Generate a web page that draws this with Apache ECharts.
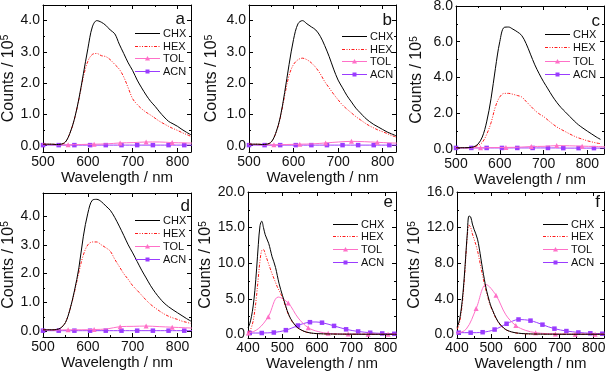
<!DOCTYPE html>
<html><head><meta charset="utf-8">
<script src="https://cdn.jsdelivr.net/npm/echarts@6/dist/echarts.min.js"></script>
<style>html,body{margin:0;padding:0;background:#fff}#c{width:606px;height:371px}</style>
</head><body><div id="c"></div>
<script>
const FONT = '"Liberation Sans", Arial, sans-serif';
function seq(a, step, b){ const r=[]; for(let k=0; a+k*step<=b+1e-9; k++) r.push(+(a+k*step).toFixed(3)); return r; }

// ---- sampling grids (wavelength, nm) ----
const wlAD    = seq(500,10,830);                       // CHX / HEX, panels a-d
const wlTolAD = seq(498,29,846);                       // TOL, panels a-d
const wlAcnAD = seq(500,17.5,850);                     // ACN, panels a-d
const wlEF    = seq(400,5,500).concat(seq(520,20,840)); // CHX / HEX, panels e-f
const wlTolE  = seq(372,29,836);
const wlTolF  = seq(340,29,833);
const wlAcnEF = seq(370,17.5,842.5);

// ---- series values (counts / 1e5) ----
const chxA = [0.05,0.05,0.05,0.04,0.05,0.12,0.4,0.85,1.5,2.3,3.1,3.8,4.0,3.95,3.85,3.7,3.58,3.25,2.95,2.65,2.4,2.1,1.85,1.62,1.42,1.26,1.08,0.92,0.78,0.7,0.62,0.52,0.43,0.35];
const hexA = [0.05,0.05,0.05,0.04,0.05,0.12,0.4,0.85,1.48,2.2,2.7,2.92,2.95,2.88,2.85,2.75,2.6,2.45,2.2,1.85,1.5,1.32,1.18,1.07,0.98,0.88,0.78,0.7,0.62,0.55,0.49,0.42,0.36,0.3];
const tolA = [0.06,0.03,0.03,0.04,0.05,0.06,0.09,0.1,0.12,0.12,0.1,0.09,0.08];
const acnA = [0.02,0.02,0.02,0.02,0.02,0.02,0.02,0.02,0.02,0.02,0.02,0.02,0.02,0.02,0.02,0.02,0.02,0.02,0.02,0.02,0.02];

const chxB = [0.05,0.05,0.05,0.04,0.05,0.12,0.4,0.9,1.7,2.6,3.4,3.9,4.0,3.9,3.8,3.7,3.5,3.2,2.85,2.45,2.1,1.85,1.6,1.4,1.2,1.05,0.9,0.78,0.68,0.6,0.52,0.44,0.38,0.32];
const hexB = [0.05,0.05,0.05,0.04,0.05,0.12,0.4,0.88,1.6,2.25,2.6,2.75,2.8,2.75,2.65,2.5,2.3,2.05,1.85,1.65,1.47,1.3,1.17,1.05,0.93,0.83,0.73,0.64,0.57,0.5,0.45,0.39,0.33,0.28];
const tolB = [0.05,0.03,0.03,0.04,0.05,0.06,0.09,0.12,0.14,0.13,0.11,0.09,0.08];
const acnB = [0.02,0.02,0.02,0.02,0.02,0.02,0.02,0.02,0.02,0.02,0.02,0.02,0.02,0.02,0.02,0.02,0.02,0.02,0.02,0.02,0.02];

const chxC = [0.05,0.05,0.05,0.06,0.1,0.25,0.65,1.5,2.8,4.5,6.0,6.8,6.82,6.7,6.55,6.35,5.9,5.3,4.7,4.2,3.75,3.35,2.95,2.6,2.3,2.05,1.8,1.55,1.33,1.15,0.98,0.82,0.66,0.52];
const hexC = [0.05,0.05,0.05,0.06,0.08,0.18,0.35,0.8,1.45,2.35,2.9,3.1,3.1,3.05,2.98,2.9,2.65,2.4,2.15,1.95,1.8,1.6,1.4,1.22,1.08,0.95,0.82,0.7,0.6,0.52,0.44,0.38,0.32,0.28];
const tolC = [0.06,0.05,0.05,0.06,0.07,0.08,0.12,0.13,0.17,0.16,0.14,0.12,0.1];
const acnC = [0.04,0.04,0.04,0.04,0.04,0.04,0.04,0.04,0.04,0.04,0.04,0.04,0.04,0.04,0.03,0.03,0.03,0.03,0.03,0.03,0.03];

const chxD = [0.05,0.05,0.05,0.06,0.12,0.3,0.75,1.4,2.2,3.3,4.1,4.55,4.58,4.5,4.35,4.2,3.95,3.65,3.33,3.0,2.72,2.42,2.12,1.85,1.58,1.35,1.15,0.98,0.85,0.74,0.64,0.54,0.44,0.35];
const hexD = [0.05,0.05,0.05,0.06,0.12,0.3,0.75,1.35,2.05,2.65,3.0,3.1,3.1,3.0,2.9,2.78,2.5,2.25,2.0,1.8,1.58,1.42,1.25,1.08,0.93,0.81,0.7,0.6,0.52,0.46,0.41,0.35,0.31,0.27];
const tolD = [0.06,0.04,0.05,0.05,0.06,0.08,0.16,0.17,0.18,0.16,0.14,0.12,0.1];
const acnD = [0.02,0.02,0.02,0.02,0.02,0.02,0.02,0.02,0.02,0.02,0.02,0.02,0.02,0.02,0.02,0.02,0.02,0.02,0.02,0.02,0.02];

const chxE = [0.9,1.5,2.5,4.0,6.2,9.2,12.6,15.3,15.9,15.0,14.0,13.4,12.8,11.9,10.9,10.2,9.4,8.3,7.2,6.3,5.5,2.6,1.15,0.5,0.22,0.12,0.08,0.06,0.05,0.04,0.04,0.03,0.03,0.03,0.02,0.02,0.02,0.02];
const hexE = [0.3,0.5,1.0,1.9,3.4,5.5,8.0,10.4,11.8,11.9,11.3,10.6,9.9,9.2,8.5,7.9,7.3,6.7,6.2,5.7,5.2,2.5,1.1,0.48,0.21,0.11,0.07,0.05,0.04,0.04,0.03,0.03,0.03,0.02,0.02,0.02,0.02,0.02];
const tolE = [0.1,0.2,0.8,2.5,5.25,4.4,2.3,0.95,0.4,0.15,0.08,0.05,0.04,0.03,0.03,0.02,0.02];
const acnE = [0.2,0.2,0.2,0.2,0.2,0.22,0.27,0.4,0.6,0.9,1.25,1.55,1.72,1.75,1.65,1.45,1.2,0.95,0.72,0.55,0.42,0.32,0.24,0.18,0.14,0.11,0.09,0.08];

const chxF = [0.8,1.3,2.2,3.7,5.8,8.5,11.3,13.3,13.2,12.4,11.8,11.3,10.7,9.7,8.5,7.3,6.2,5.2,4.4,3.7,3.1,1.45,0.62,0.28,0.14,0.08,0.05,0.04,0.03,0.03,0.02,0.02,0.02,0.02,0.02,0.02,0.02,0.02];
const hexF = [0.6,1.0,1.9,3.3,5.4,8.2,11.0,12.3,12.0,11.3,10.7,10.1,9.4,8.5,7.5,6.6,5.7,4.9,4.2,3.5,3.0,1.38,0.6,0.27,0.13,0.07,0.05,0.04,0.03,0.03,0.02,0.02,0.02,0.02,0.02,0.02,0.02,0.02];
const tolF = [0.1,0.1,0.15,0.6,2.9,5.6,4.4,2.2,1.0,0.45,0.2,0.1,0.06,0.04,0.03,0.03,0.02,0.02];
const acnF = [0.2,0.2,0.2,0.2,0.2,0.2,0.25,0.35,0.55,0.85,1.2,1.5,1.68,1.65,1.55,1.35,1.1,0.85,0.65,0.5,0.38,0.3,0.22,0.17,0.13,0.1,0.08,0.07];

// ---- tick labels ----
const xMajAD = [500,600,700,800], xMinAD = [550,650,750];
const xMajEF = [400,500,600,700,800], xMinEF = [450,550,650,750];
const yMajAB = [0,1,2,3,4], yMinAB = [0.5,1.5,2.5,3.5];
const yMajC = [0,2,4,6,8], yMinC = [1,3,5,7];
const yMajE = [0,5,10,15,20], yMinE = [2.5,7.5,12.5,17.5];
const yMajF = [0,4,8,12,16], yMinF = [2,6,10,14];
const names = ['CHX','HEX','TOL','ACN'];

// layout: g = grid box [left, top, width, height]; lg = legend [left, first row centre, row step]; lt = panel letter
const panels = [
  {L:'a', g:[43,5,148,147],  xr:[500,830], yr:[-0.2,4.5], xM:xMajAD,xm:xMinAD,yM:yMajAB,ym:yMinAB, ng:26, lg:[135,33,12.7], lt:[185,19],
   s:[[wlAD,chxA],[wlAD,hexA],[wlTolAD,tolA,[498,58]],[wlAcnAD,acnA,[500,35]]]},
  {L:'b', g:[249,5,147,147], xr:[500,830], yr:[-0.2,4.5], xM:xMajAD,xm:xMinAD,yM:yMajAB,ym:yMinAB, ng:29, lg:[342,36,12.7], lt:[392,20],
   s:[[wlAD,chxB],[wlAD,hexB],[wlTolAD,tolB,[498,58]],[wlAcnAD,acnB,[500,35]]]},
  {L:'c', g:[456,6,148,148], xr:[500,838], yr:[-0.3,8.0], xM:xMajAD,xm:xMinAD,yM:yMajC,ym:yMinC, ng:31, lg:[545,33.5,13.5], lt:[600,21],
   s:[[wlAD,chxC],[wlAD,hexC],[wlTolAD,tolC,[498,58]],[wlAcnAD,acnC,[500,35]]]},
  {L:'d', g:[43,193,148,144], xr:[500,830], yr:[-0.2,4.8], xM:xMajAD,xm:xMinAD,yM:yMajAB,ym:yMinAB, ng:26, lg:[135,220,13], lt:[190,206],
   s:[[wlAD,chxD],[wlAD,hexD],[wlTolAD,tolD,[498,58]],[wlAcnAD,acnD,[500,35]]]},
  {L:'e', g:[248,192,148,146], xr:[400,830], yr:[-0.5,20], xM:xMajEF,xm:xMinEF,yM:yMajE,ym:yMinE, ng:33, lg:[333,223.5,12.8], lt:[393,202],
   s:[[wlEF,chxE],[wlEF,hexE],[wlTolE,tolE,[401,58]],[wlAcnEF,acnE,[405,35]]]},
  {L:'f', g:[457,192,147,146], xr:[400,830], yr:[-0.4,16], xM:xMajEF,xm:xMinEF,yM:yMajF,ym:yMinF, ng:32, lg:[543,223.5,12.8], lt:[600,202],
   s:[[wlEF,chxF],[wlEF,hexF],[wlTolF,tolF,[398,58]],[wlAcnEF,acnF,[405,35]]]}
];

const COLORS = ['#000000','#ff1a1a','#ff70c8','#9a3cff'];
const DASH = [3,1.5,1,1.5,1,1.5];
const MARKS = ['none','none','triangle','rect'];
function styleOf(k){
  const ls = {width:1, color:COLORS[k]};
  if (k===1) ls.type = DASH.slice();
  const o = {color:COLORS[k], lineStyle:ls, symbol:MARKS[k]};
  if (k===2) o.symbolSize = 5;
  if (k===3) o.symbolSize = 4.5;
  return o;
}

function pts(xs, ys, mark){
  return xs.map((x,i)=>{
    const v=[x,ys[i]];
    if(!mark) return v;
    const r=(x-mark[0])/mark[1];
    return Math.abs(r-Math.round(r))<1e-6 ? v : {value:v, symbol:'none'};
  });
}

const TXT = '#111';
const grids=[], xAxes=[], yAxes=[], series=[], graphics=[];

function legendGraphics(p){
  const out = [];
  names.forEach((nm,k)=>{
    const y = Math.round(p.lg[1] + k*p.lg[2]) + 0.5;
    const x0 = p.lg[0], x1 = p.lg[0] + 25;
    const st = {stroke:COLORS[k], lineWidth:1};
    if (k===1) st.lineDash = DASH.slice();
    out.push({type:'line', z:100, silent:true, shape:{x1:x0, y1:y, x2:x1, y2:y}, style:st});
    const cx = (x0+x1)/2;
    if (k===2) out.push({type:'polygon', z:101, silent:true, shape:{points:[[cx,y-2.5],[cx+2.5,y+2],[cx-2.5,y+2]]}, style:{fill:COLORS[k]}});
    if (k===3) out.push({type:'rect', z:101, silent:true, shape:{x:cx-2, y:y-2, width:4, height:4}, style:{fill:COLORS[k]}});
    out.push({type:'text', z:101, silent:true, x:x1+3, y:y, style:{text:nm, font:'11px '+FONT, fill:TXT, textAlign:'left', textVerticalAlign:'middle'}});
  });
  return out;
}

panels.forEach((p,i)=>{
  grids.push({left:p.g[0], top:p.g[1], width:p.g[2], height:p.g[3], containLabel:false, outerBoundsMode:'none'});
  const line = {show:true, onZero:false, lineStyle:{color:'#000', width:1}};
  const noLine = {show:false, onZero:false};
  const tick = (vals,len)=>({show:true, inside:true, length:len, customValues:vals, lineStyle:{color:'#000',width:1}});
  const base = {gridIndex:i, type:'value', splitLine:{show:false}};
  const xb = Object.assign({}, base, {min:p.xr[0], max:p.xr[1]});
  xAxes.push(Object.assign({}, xb, {position:'bottom', axisLine:line, axisTick:tick(p.xM,4),
    axisLabel:{show:true, customValues:p.xM, margin:3, fontSize:14, fontFamily:FONT, color:TXT, formatter:v=>String(v)},
    name:'Wavelength / nm', nameLocation:'middle', nameGap:14, nameTextStyle:{fontSize:15, fontFamily:FONT, color:TXT, verticalAlign:'top'}}));
  xAxes.push(Object.assign({}, xb, {position:'bottom', axisLine:noLine, axisTick:tick(p.xm,2), axisLabel:{show:false}}));
  xAxes.push(Object.assign({}, xb, {position:'top', axisLine:line, axisTick:tick(p.xM,4), axisLabel:{show:false}}));
  xAxes.push(Object.assign({}, xb, {position:'top', axisLine:noLine, axisTick:tick(p.xm,2), axisLabel:{show:false}}));
  const yb = Object.assign({}, base, {min:p.yr[0], max:p.yr[1]});
  yAxes.push(Object.assign({}, yb, {position:'left', axisLine:line, axisTick:tick(p.yM,4),
    axisLabel:{show:true, customValues:p.yM, margin:3, fontSize:14, fontFamily:FONT, color:TXT, formatter:v=>v.toFixed(1)},
    name:'Counts / 10{s|5}', nameLocation:'middle', nameGap:p.ng,
    nameTextStyle:{fontSize:16, fontFamily:FONT, color:TXT, rich:{s:{fontSize:10, fontFamily:FONT, color:TXT, verticalAlign:'top', lineHeight:16}}}}));
  yAxes.push(Object.assign({}, yb, {position:'left', axisLine:noLine, axisTick:tick(p.ym,2), axisLabel:{show:false}}));
  yAxes.push(Object.assign({}, yb, {position:'right', axisLine:line, axisTick:tick(p.yM,4), axisLabel:{show:false}}));
  yAxes.push(Object.assign({}, yb, {position:'right', axisLine:noLine, axisTick:tick(p.ym,2), axisLabel:{show:false}}));
  p.s.forEach((s,k)=>{
    series.push(Object.assign({type:'line', name:names[k], xAxisIndex:4*i, yAxisIndex:4*i, smooth:0.35,
      clip:true, silent:true, animation:false, z:10-k, data:pts(s[0],s[1],s[2])}, styleOf(k)));
  });
  legendGraphics(p).forEach(g=>graphics.push(g));
  graphics.push({type:'text', z:101, silent:true, x:p.lt[0], y:p.lt[1], style:{text:p.L, font:'17px '+FONT, fill:TXT, textAlign:'right', textVerticalAlign:'middle'}});
});

const chart = echarts.init(document.getElementById('c'), null, {renderer:'canvas'});
chart.setOption({animation:false, backgroundColor:'#fff', grid:grids, xAxis:xAxes, yAxis:yAxes, series:series, graphic:graphics});
</script></body></html>
